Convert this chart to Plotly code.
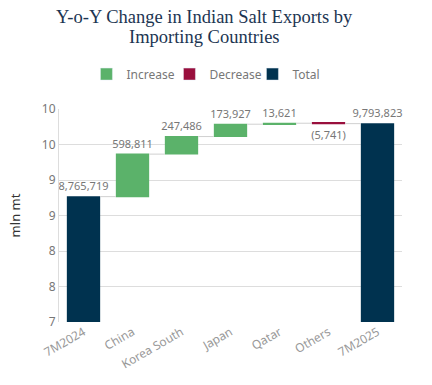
import plotly.graph_objects as go

categories = ["7M2024", "China", "Korea South", "Japan", "Qatar", "Others", "7M2025"]
values_mt = [8765719, 598811, 247486, 173927, 13621, -5741, 9793823]
measures = ["absolute", "relative", "relative", "relative", "relative", "relative", "total"]
labels = ["8,765,719", "598,811", "247,486", "173,927", "13,621", "(5,741)", "9,793,823"]
y_ticks = [7, 7.5, 8, 8.5, 9, 9.5, 10]

GREEN = "#5bb26a"
RED = "#990f3d"
NAVY = "#00324f"
GREY = "#777777"
TITLE = "#1c3552"

values = [v / 1e6 for v in values_mt]

fig = go.Figure()
fig.add_trace(go.Waterfall(
    x=categories, y=values, measure=measures,
    text=labels, textposition="outside", constraintext="none",
    textfont=dict(family="Noto Sans", size=11, color=GREY),
    increasing=dict(marker=dict(color=GREEN)),
    decreasing=dict(marker=dict(color=RED)),
    totals=dict(marker=dict(color=NAVY)),
    connector=dict(line=dict(color="#d0d0d0", width=1)),
    showlegend=False, cliponaxis=False, hoverinfo="skip",
))
for name, col in [("Increase", GREEN), ("Decrease", RED), ("Total", NAVY)]:
    fig.add_trace(go.Bar(x=[None], y=[None], name=name, marker=dict(color=col)))

fig.update_layout(
    width=432, height=385,
    margin=dict(l=59, r=30, t=109, b=63, autoexpand=False),
    paper_bgcolor="white", plot_bgcolor="white",
    annotations=[
        dict(text="Y-o-Y Change in Indian Salt Exports by", x=0.425, xref="paper",
             y=1.432, yref="paper", xanchor="center", yanchor="middle", showarrow=False,
             font=dict(family="Liberation Serif", size=18.5, color=TITLE)),
        dict(text="Importing Countries", x=0.425, xref="paper",
             y=1.338, yref="paper", xanchor="center", yanchor="middle", showarrow=False,
             font=dict(family="Liberation Serif", size=18.5, color=TITLE)),
    ],
    legend=dict(orientation="h", x=0.08, xanchor="left", y=1.164, yanchor="middle",
                font=dict(family="Noto Sans", size=12, color=GREY),
                itemwidth=30, entrywidth=38, entrywidthmode="pixels"),
    waterfallgap=0.32,
    barmode="overlay",
    showlegend=True,
)
fig.update_yaxes(range=[7, 10], tickvals=y_ticks, tickformat=".0f",
                 showgrid=True, gridcolor="#dddddd", zeroline=False,
                 showline=True, linecolor="#dddddd", automargin=False,
                 tickfont=dict(family="Noto Sans", size=12, color=GREY),
                 title=dict(text="mln mt", font=dict(family="Noto Sans", size=13, color="#333333"), standoff=18))
fig.update_xaxes(tickangle=-30, showline=False, showgrid=False, automargin=False,
                 tickfont=dict(family="Noto Sans", size=12, color="#999999"))

fig.write_html("out.html", config={"displayModeBar": False},
               post_script="document.body.style.margin='0';")
